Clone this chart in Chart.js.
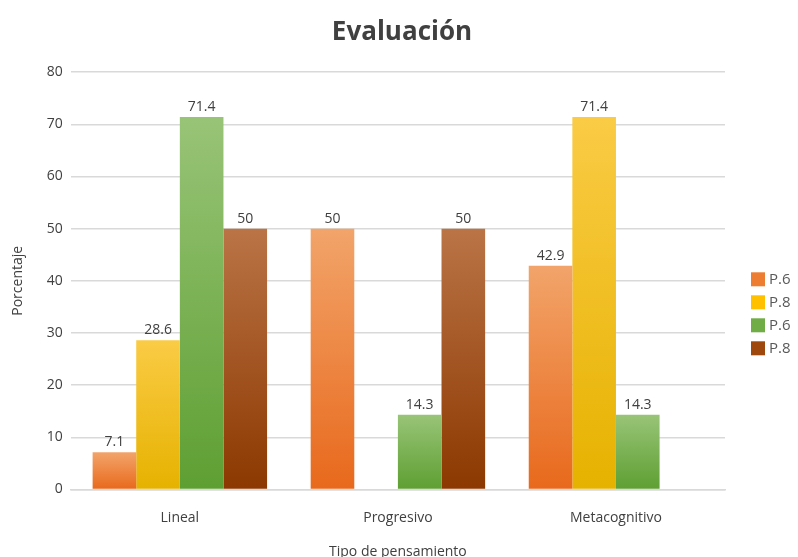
<!DOCTYPE html>
<html>
<head>
<meta charset="utf-8">
<script src="https://cdn.jsdelivr.net/npm/chart.js@4"></script>
<style>
  html, body { margin: 0; padding: 0; background: #fff; }
  #wrap { width: 798px; height: 557px; }
</style>
</head>
<body>
<div id="wrap"><canvas id="evalChart" width="798" height="557"></canvas></div>
<script>
var categories = ['Lineal', 'Progresivo', 'Metacognitivo'];
var seriesNames = ['P.6', 'P.8', 'P.6', 'P.8'];
var orangeP6 = [7.1, 50, 42.9];
var yellowP8 = [28.6, null, 71.4];
var greenP6 = [71.4, 14.3, 14.3];
var brownP8 = [50, 50, null];
var yTicks = [0, 10, 20, 30, 40, 50, 60, 70, 80];

// top colour, bottom colour, legend colour
var palette = [
  ['#F2A46A', '#E8691C', '#ED7D31'],
  ['#FACB45', '#E6B200', '#FFC000'],
  ['#98C477', '#5E9F32', '#70AD47'],
  ['#BA7446', '#8C3800', '#9E480E']
];

var FONT = '"Open Sans", sans-serif';

function barGradient(idx) {
  return function (c) {
    var chart = c.chart;
    if (!chart.chartArea || c.parsed == null || c.parsed.y == null) return palette[idx][2];
    var y = chart.scales.y;
    var top = y.getPixelForValue(c.parsed.y);
    var base = y.getPixelForValue(0);
    if (!isFinite(top) || base - top < 1) return palette[idx][2];
    var g = chart.ctx.createLinearGradient(0, top, 0, base);
    g.addColorStop(0, palette[idx][0]);
    g.addColorStop(1, palette[idx][1]);
    return g;
  };
}

var valueLabels = {
  id: 'valueLabels',
  afterDatasetsDraw: function (chart) {
    var ctx = chart.ctx;
    ctx.save();
    ctx.font = '14px ' + FONT;
    ctx.fillStyle = '#404040';
    ctx.textAlign = 'center';
    ctx.textBaseline = 'bottom';
    chart.data.datasets.forEach(function (ds, i) {
      var meta = chart.getDatasetMeta(i);
      meta.data.forEach(function (bar, j) {
        var v = ds.data[j];
        if (v == null) return;
        ctx.fillText(String(v), bar.x, bar.y - 3);
      });
    });
    ctx.restore();
  }
};

// legend drawn at the right of the plot, Excel style
var sideLegend = {
  id: 'sideLegend',
  afterDraw: function (chart) {
    var ctx = chart.ctx;
    var area = chart.chartArea;
    var n = chart.data.datasets.length;
    var rowH = 23;
    var x = area.right + 26;
    var startY = (area.top + area.bottom) / 2 + 33 - (n - 1) * rowH / 2;
    ctx.save();
    ctx.font = '15px ' + FONT;
    ctx.textBaseline = 'middle';
    ctx.textAlign = 'left';
    chart.data.datasets.forEach(function (ds, i) {
      var cy = startY + i * rowH;
      ctx.fillStyle = palette[i][2];
      ctx.fillRect(x, cy - 7, 14, 14);
      ctx.fillStyle = '#595959';
      ctx.fillText(ds.label, x + 18, cy);
    });
    ctx.restore();
  }
};

var allSeries = [orangeP6, yellowP8, greenP6, brownP8];
var datasets = allSeries.map(function (d, i) {
  return {
    label: seriesNames[i],
    data: d,
    backgroundColor: barGradient(i),
    borderWidth: 0,
    categoryPercentage: 0.8,
    barPercentage: 1.0
  };
});

var ctx = document.getElementById('evalChart').getContext('2d');
new Chart(ctx, {
  type: 'bar',
  data: { labels: categories, datasets: datasets },
  plugins: [valueLabels, sideLegend],
  options: {
    responsive: false,
    animation: false,
    layout: { padding: { left: 6, right: 0, top: 17, bottom: -7 } },
    plugins: {
      title: {
        display: true,
        text: 'Evaluación',
        color: '#404040',
        font: { family: FONT, size: 26, weight: 'bold' },
        padding: { top: 0, bottom: 24 }
      },
      legend: { display: false },
      tooltip: { enabled: false }
    },
    scales: {
      x: {
        grid: { display: false },
        border: { color: '#D9D9D9', width: 1.5 },
        ticks: { color: '#404040', font: { family: FONT, size: 14 }, padding: 12 },
        title: {
          display: true,
          text: 'Tipo de pensamiento',
          color: '#404040',
          font: { family: FONT, size: 14 },
          padding: { top: 5 }
        }
      },
      y: {
        min: 0,
        max: 80,
        afterBuildTicks: function (axis) {
          axis.ticks = yTicks.map(function (v) { return { value: v }; });
        },
        grid: { color: '#D9D9D9', lineWidth: 1.5, drawTicks: false },
        border: { display: false },
        ticks: { color: '#404040', font: { family: FONT, size: 14 }, padding: 8 },
        title: {
          display: true,
          text: 'Porcentaje',
          color: '#404040',
          font: { family: FONT, size: 14 },
          padding: { bottom: 12 }
        }
      },
      // empty right-hand axis that only reserves room for the legend
      legendSpace: {
        position: 'right',
        display: true,
        grid: { display: false, drawTicks: false },
        border: { display: false },
        ticks: { display: false },
        afterFit: function (axis) { axis.width = 73; }
      }
    }
  }
});
</script>
</body>
</html>
